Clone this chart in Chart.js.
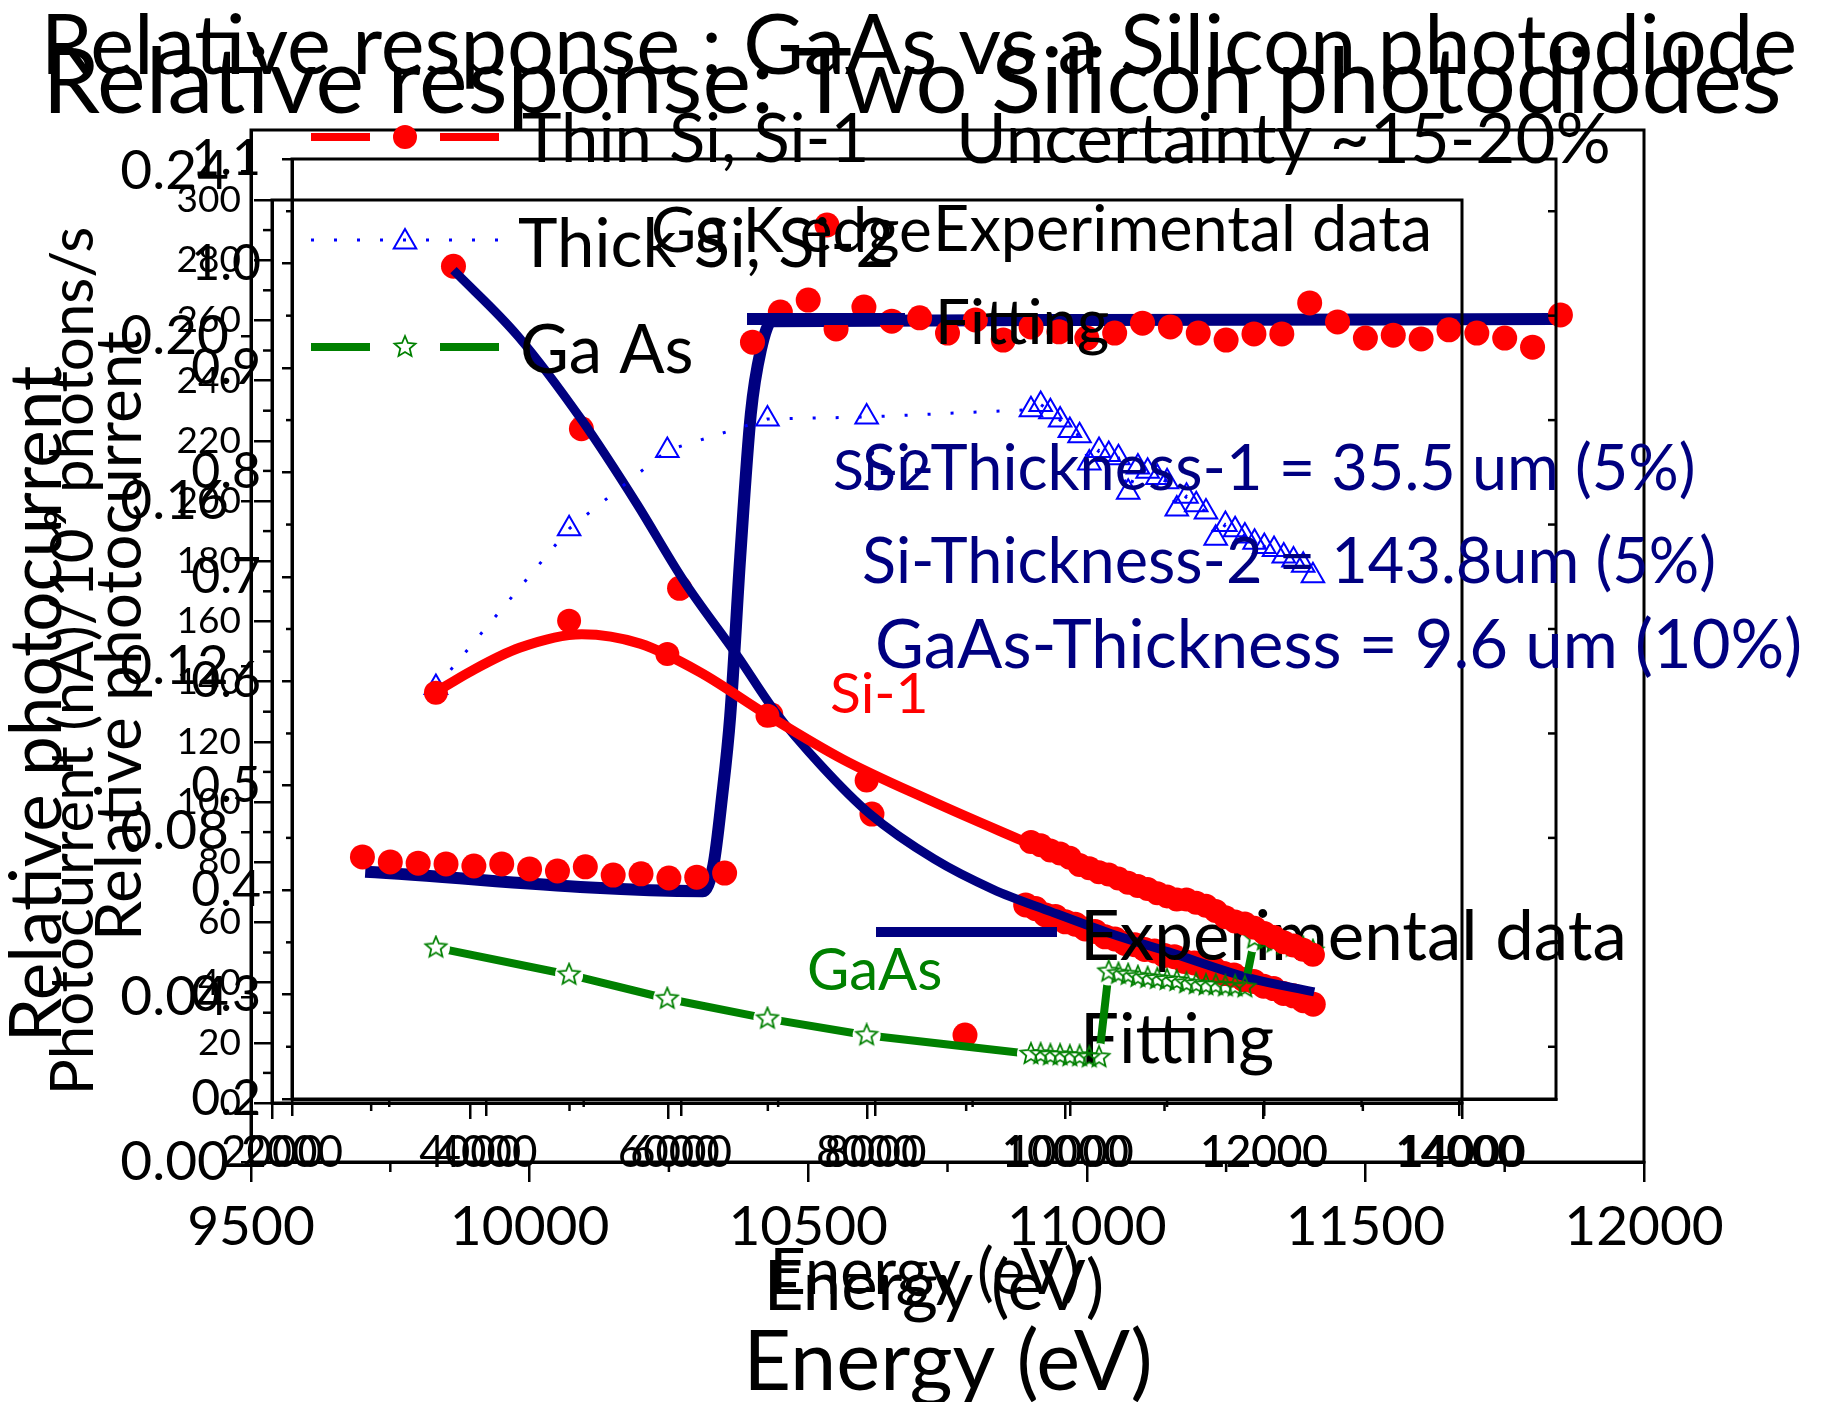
<!DOCTYPE html>
<html>
<head>
<meta charset="utf-8">
<title>Relative response</title>
<script src="https://cdn.jsdelivr.net/npm/chart.js@4.4.1/dist/chart.umd.min.js"></script>
<style>
  html, body { margin: 0; padding: 0; background: #fff; }
  #wrap { position: relative; width: 1831px; height: 1402px; overflow: hidden; }
  #wrap canvas { position: absolute; left: 0; top: 0; }
</style>
</head>
<body>
<div id="wrap">
  <canvas id="ratio-chart" width="1831" height="1402"></canvas>
  <canvas id="photo-chart" width="1831" height="1402"></canvas>
  <canvas id="si-chart" width="1831" height="1402"></canvas>
</div>
<script>
'use strict';

const RED = '#ff0000';
const NAVY = '#000080';
const BLUE = '#0000ff';
const GREEN = '#008000';
const W = 1831;
const H = 1402;

// ---- GaAs vs a Silicon photodiode (ratio around the Ga K edge) ----
let ratioEnergy = [9700, 9750, 9800, 9850, 9900, 9950, 10000, 10050, 10100, 10150, 10200, 10250, 10300, 10350,
  10400, 10450, 10500, 10550, 10600, 10650, 10700, 10750, 10800, 10850, 10900, 10950, 11000, 11050, 11100,
  11150, 11200, 11250, 11300, 11350, 11400, 11450, 11500, 11550, 11600, 11650, 11700, 11750, 11800, 11850];
let ratioValue = [0.0739, 0.0727, 0.0724, 0.0722, 0.0717, 0.0722, 0.0710, 0.0705, 0.0715, 0.0695, 0.0698, 0.0688, 0.0690, 0.0700,
  0.1986, 0.2059, 0.2088, 0.2018, 0.2071, 0.2037, 0.2045, 0.2008, 0.2040, 0.1991, 0.2023, 0.2011, 0.1996, 0.2008, 0.2032,
  0.2023, 0.2008, 0.1991, 0.2006, 0.2006, 0.2081, 0.2035, 0.1996, 0.2003, 0.1994, 0.2016, 0.2008, 0.1996, 0.1974, 0.2052];
let ratioFitEnergy = [9705, 10311, 10330, 10345, 10360, 10378, 10397, 10415, 10435, 11000, 11837];
let ratioFitValue = [0.0703, 0.0656, 0.0720, 0.0880, 0.1080, 0.1466, 0.1812, 0.1967, 0.2037, 0.2040, 0.2042];
let ratioXTicks = [9500, 10000, 10500, 11000, 11500, 12000];
let ratioXMinor = [9750, 10250, 10750, 11250, 11750];
let ratioYTicks = [0, 0.04, 0.08, 0.12, 0.16, 0.20, 0.24];

// ---- Two silicon photodiodes and GaAs (relative response) ----
let pointEnergySi = [3480, 4850, 5860, 6890, 7910];
let scanEnergy = [9600, 9700, 9800, 9900, 10000, 10100, 10200, 10300, 10400, 10500, 10600, 10700, 10800, 10900,
  11000, 11100, 11200, 11300, 11400, 11500, 11600, 11700, 11800, 11900, 12000, 12100, 12200, 12300, 12400, 12500];
let si1Value = [0.589, 0.658, 0.626, 0.567, 0.505,
  0.446, 0.443, 0.438, 0.435, 0.431, 0.424, 0.421, 0.417, 0.415, 0.411, 0.407, 0.404, 0.401, 0.397, 0.394,
  0.391, 0.391, 0.388, 0.385, 0.380, 0.374, 0.370, 0.368, 0.364, 0.359, 0.355, 0.350, 0.347, 0.343, 0.338];
let si2Value = [0.594, 0.746, 0.821, 0.851, 0.853,
  0.860, 0.865, 0.858, 0.850, 0.840, 0.835, 0.809, 0.821, 0.817, 0.814, 0.781, 0.805, 0.801, 0.795, 0.791,
  0.765, 0.777, 0.769, 0.762, 0.737, 0.750, 0.745, 0.739, 0.733, 0.729, 0.726, 0.720, 0.716, 0.711, 0.701];
let gaasValue = [0.345, 0.319, 0.296, 0.277, 0.261,
  0.243, 0.243, 0.242, 0.242, 0.241, 0.241, 0.240, 0.240,
  0.322, 0.320, 0.319, 0.317, 0.316, 0.315, 0.314, 0.313, 0.311, 0.310, 0.309, 0.309, 0.308, 0.308, 0.307,
  0.354, 0.352, 0.350, 0.348, 0.346, 0.345, 0.342];
let si1FitEnergy = [3470, 3830, 4340, 4980, 5580, 6190, 6900, 7670, 8560, 9270, 10300, 11330, 12500];
let si1FitValue = [0.589, 0.609, 0.632, 0.645, 0.636, 0.609, 0.567, 0.525, 0.486, 0.457, 0.417, 0.387, 0.339];
let siXTicks = [2000, 4000, 6000, 8000, 10000, 12000, 14000];
let siXMinor = [3000, 5000, 7000, 9000, 11000, 13000];
let siYTicks = [0.2, 0.3, 0.4, 0.5, 0.6, 0.7, 0.8, 0.9, 1.0, 1.1];
let siYMinor = [0.25, 0.35, 0.45, 0.55, 0.65, 0.75, 0.85, 0.95, 1.05];

// ---- Photocurrent of the Si diode ----
let pointEnergyPhoto = [3830, 5120, 6110, 7030, 8050];
let photoValue = [278, 224, 171, 129, 96,
  65.8, 64.6, 62.5, 62.0, 60.2, 59.4, 57.8, 57.0, 55.2, 54.5, 53.0, 52.6, 51.0, 50.5, 49.0,
  48.6, 47.0, 46.5, 45.0, 44.6, 43.0, 42.5, 41.0, 40.4, 38.8, 38.0, 36.4, 35.6, 34.0, 32.8];
let photoFitEnergy = [3830, 4480, 5130, 5680, 6140, 6700, 7070, 7540, 8030, 8680, 9270, 9860, 10440, 11040, 11860, 12510];
let photoFitValue = [276.7, 254.8, 226.6, 199.0, 174.1, 148.2, 130.2, 112.0, 96.0, 81.0, 71.0, 63.5, 56.5, 50.2, 41.5, 36.9];
let photoXTicks = [2000, 4000, 6000, 8000, 10000, 12000, 14000];
let photoXMinor = [3000, 5000, 7000, 9000, 11000, 13000];
let photoYTicks = [0, 20, 40, 60, 80, 100, 120, 140, 160, 180, 200, 220, 240, 260, 280, 300];
let photoYMinor = [10, 30, 50, 70, 90, 110, 130, 150, 170, 190, 210, 230, 250, 270, 290];


Chart.defaults.font.family = 'Lato, "Open Sans", sans-serif';
Chart.defaults.color = '#000';

function pairs(xs, ys) {
  return xs.map((x, i) => ({ x: x, y: ys[i] }));
}

function starPath(ctx, cx, cy, r) {
  ctx.beginPath();
  for (let i = 0; i < 10; i++) {
    const a = -Math.PI / 2 + i * Math.PI / 5;
    const rr = i % 2 ? r * 0.45 : r;
    ctx.lineTo(cx + rr * Math.cos(a), cy + rr * Math.sin(a));
  }
  ctx.closePath();
}

function makeStar(r, color) {
  const c = document.createElement('canvas');
  c.width = c.height = 2 * r + 4;
  const ctx = c.getContext('2d');
  ctx.strokeStyle = color;
  ctx.lineWidth = 1.8;
  starPath(ctx, r + 2, r + 2, r);
  ctx.stroke();
  return c;
}
const starImage = makeStar(11, GREEN);

function drawMarker(ctx, kind, x, y, r, color) {
  ctx.beginPath();
  if (kind === 'circle') {
    ctx.fillStyle = color;
    ctx.arc(x, y, r, 0, Math.PI * 2);
    ctx.fill();
  } else if (kind === 'triangle') {
    ctx.strokeStyle = color;
    ctx.lineWidth = 2;
    ctx.moveTo(x, y - r);
    ctx.lineTo(x + r * 0.866, y + r / 2);
    ctx.lineTo(x - r * 0.866, y + r / 2);
    ctx.closePath();
    ctx.stroke();
  } else if (kind === 'star') {
    ctx.strokeStyle = color;
    ctx.lineWidth = 1.8;
    starPath(ctx, x, y, r);
    ctx.stroke();
  }
}

// text that sits on top of the charts (titles, labels, notes)
function notesPlugin(items) {
  return {
    id: 'notes',
    afterDraw(chart) {
      const ctx = chart.ctx;
      items.forEach(n => {
        ctx.save();
        ctx.font = n.size + 'px Lato, "Open Sans", sans-serif';
        ctx.fillStyle = n.color || '#000';
        ctx.textAlign = n.align || 'left';
        ctx.textBaseline = 'alphabetic';
        ctx.translate(n.x, n.y);
        if (n.vertical) ctx.rotate(-Math.PI / 2);
        ctx.fillText(n.text, 0, 0);
        ctx.restore();
      });
    }
  };
}

// box around the plot area + the small ticks
function framePlugin(minor) {
  return {
    id: 'frame',
    afterDraw(chart) {
      const ctx = chart.ctx;
      const a = chart.chartArea;
      ctx.save();
      ctx.strokeStyle = '#000';
      ctx.lineWidth = 3;
      ctx.strokeRect(a.left, a.top, a.right - a.left, a.bottom - a.top);
      ctx.lineWidth = 2.5;
      minor.forEach(m => {
        const scale = chart.scales[m.axis];
        m.values.forEach(v => {
          const p = scale.getPixelForValue(v);
          ctx.beginPath();
          if (m.axis === 'x') {
            ctx.moveTo(p, a.bottom);
            ctx.lineTo(p, a.bottom + m.len);
          } else {
            const x0 = m.right ? a.right : a.left;
            ctx.moveTo(x0, p);
            ctx.lineTo(x0 + m.len, p);
          }
          ctx.stroke();
        });
      });
      ctx.restore();
    }
  };
}

// legend samples
function keysPlugin(keys) {
  return {
    id: 'keys',
    afterDraw(chart) {
      const ctx = chart.ctx;
      keys.forEach(k => {
        ctx.save();
        if (k.line) {
          ctx.strokeStyle = k.color;
          ctx.lineWidth = k.line;
          ctx.setLineDash(k.dash || []);
          ctx.beginPath();
          ctx.moveTo(k.x1, k.y);
          ctx.lineTo(k.x2, k.y);
          ctx.stroke();
        } else {
          drawMarker(ctx, k.marker, k.x, k.y, k.r, k.color);
        }
        ctx.restore();
      });
    }
  };
}

// open a small gap in a line around each of its points
function gapPlugin(lineIndex, radius) {
  return {
    id: 'gaps',
    afterDatasetDraw(chart, args) {
      if (args.index !== lineIndex) return;
      const ctx = chart.ctx;
      ctx.save();
      ctx.globalCompositeOperation = 'destination-out';
      args.meta.data.forEach(pt => {
        ctx.beginPath();
        ctx.arc(pt.x, pt.y, radius, 0, Math.PI * 2);
        ctx.fill();
      });
      ctx.restore();
    }
  };
}

function linearAxis(min, max, tickValues, fmt, size, tickLength, padding, fit) {
  return {
    type: 'linear',
    min: min,
    max: max,
    afterBuildTicks: scale => { scale.ticks = tickValues.map(v => ({ value: v })); },
    afterFit: scale => {
      if (scale.isHorizontal()) {
        scale.height = fit;
      } else {
        scale.width = fit;
      }
    },
    ticks: { callback: v => fmt(v), font: { size: size }, color: '#000', padding: padding, autoSkip: false, maxRotation: 0, minRotation: 0 },
    grid: { drawOnChartArea: false, tickLength: tickLength, color: '#000', lineWidth: 2.5 },
    border: { color: '#000', width: 3 }
  };
}

function baseOptions(box, xAxis, yAxis) {
  return {
    responsive: false,
    animation: false,
    devicePixelRatio: 1,
    events: [],
    layout: { autoPadding: false, padding: { left: 0, top: box.top, right: W - box.right, bottom: 0 } },
    plugins: { legend: { display: false }, tooltip: { enabled: false } },
    scales: { x: xAxis, y: yAxis }
  };
}


// ---------- chart 1: GaAs / Si ratio ----------
new Chart(document.getElementById('ratio-chart'), {
  type: 'line',
  data: {
    datasets: [{
      label: 'Experimental data',
      data: pairs(ratioEnergy, ratioValue),
      showLine: false,
      pointRadius: 12.5,
      pointBackgroundColor: RED,
      pointBorderWidth: 0,
      order: 1
    }, {
      label: 'Fitting',
      data: pairs(ratioFitEnergy, ratioFitValue),
      borderColor: NAVY,
      borderWidth: 12,
      borderJoinStyle: 'round',
      pointRadius: 0,
      cubicInterpolationMode: 'monotone',
      order: 2
    }]
  },
  options: baseOptions({ top: 130, right: 1644 },
    linearAxis(9500, 12000, ratioXTicks, v => String(v), 55, 20, 12, H - 1162),
    linearAxis(0, 0.25, ratioYTicks, v => v.toFixed(2), 55, 10, 12, 251)),
  plugins: [
    framePlugin([{ axis: 'x', values: ratioXMinor, len: 10 }]),
    keysPlugin([
      { line: 12, color: NAVY, x1: 747, x2: 905, y: 319 },
      { marker: 'circle', color: RED, x: 827, y: 225, r: 12.5 }
    ]),
    notesPlugin([
      { text: 'Relative response : GaAs vs a Silicon photodiode', x: 919, y: 74, size: 83, align: 'center' },
      { text: 'Ga K edge', x: 651, y: 252, size: 62 },
      { text: 'Experimental data', x: 933, y: 251, size: 63 },
      { text: 'Fitting', x: 935, y: 344, size: 62 },
      { text: 'Relative photocurrent', x: 61, y: 704, size: 71, align: 'center', vertical: true },
      { text: 'Energy (eV)', x: 948, y: 1390, size: 83, align: 'center' }
    ])
  ]
});

// ---------- chart 2: photocurrent ----------
new Chart(document.getElementById('photo-chart'), {
  type: 'line',
  data: {
    datasets: [{
      label: 'Fitting',
      data: pairs(photoFitEnergy, photoFitValue),
      borderColor: NAVY,
      borderWidth: 9,
      pointRadius: 0,
      cubicInterpolationMode: 'monotone',
      order: 1
    }, {
      label: 'Experimental data',
      data: pairs(pointEnergyPhoto.concat(scanEnergy), photoValue),
      showLine: false,
      pointRadius: 12.5,
      pointBackgroundColor: RED,
      pointBorderWidth: 0,
      order: 2
    }]
  },
  options: baseOptions({ top: 200, right: 1462 },
    linearAxis(2000, 14000, photoXTicks, v => String(v), 44, 16, 7, H - 1103),
    linearAxis(0, 300, photoYTicks, v => String(v), 37, 18, 13, 272)),
  plugins: [
    framePlugin([
      { axis: 'x', values: photoXMinor, len: 8 },
      { axis: 'y', values: photoYMinor, len: -9 }
    ]),
    keysPlugin([
      { line: 10, color: NAVY, x1: 876, x2: 1057, y: 932 },
      { marker: 'circle', color: RED, x: 965, y: 1035, r: 12.5 }
    ]),
    notesPlugin([
      { text: 'Experimental data', x: 1080, y: 960, size: 69 },
      { text: 'Fitting', x: 1080, y: 1063, size: 69 },
      { text: 'Photocurrent (nA)/10\u2079 photons/s', x: 93, y: 661, size: 60, align: 'center', vertical: true },
      { text: 'Energy (eV)', x: 934, y: 1310, size: 69, align: 'center' }
    ])
  ]
});

// ---------- chart 3: two silicon photodiodes + GaAs ----------
let siEnergy = pointEnergySi.concat(scanEnergy);

new Chart(document.getElementById('si-chart'), {
  type: 'line',
  data: {
    datasets: [{
      label: 'Thin Si, Si-1',
      data: pairs(siEnergy, si1Value),
      showLine: false,
      pointRadius: 12,
      pointBackgroundColor: RED,
      pointBorderWidth: 0,
      order: 1
    }, {
      label: 'Thick Si, Si-2',
      data: pairs(siEnergy, si2Value),
      borderColor: BLUE,
      borderWidth: 3,
      borderDash: [3, 20],
      pointStyle: 'triangle',
      pointRadius: 13,
      pointBorderColor: BLUE,
      pointBorderWidth: 2,
      pointBackgroundColor: 'rgba(0,0,0,0)',
      order: 2
    }, {
      label: 'Si-1 fit',
      data: pairs(si1FitEnergy, si1FitValue),
      borderColor: RED,
      borderWidth: 10,
      pointRadius: 0,
      cubicInterpolationMode: 'monotone',
      order: 3
    }, {
      label: 'Ga As',
      data: pairs(siEnergy, gaasValue),
      showLine: false,
      pointStyle: starImage,
      pointRadius: 11,
      order: 4
    }, {
      label: 'Ga As line',
      data: pairs(siEnergy, gaasValue),
      borderColor: GREEN,
      borderWidth: 8,
      pointRadius: 0,
      order: 5
    }]
  },
  options: baseOptions({ top: 159, right: 1556 },
    linearAxis(2000, 15000, siXTicks, v => String(v), 44, 17, 10, H - 1099),
    linearAxis(0.2, 1.1, siYTicks, v => v.toFixed(1), 50, 10, 21, 292)),
  plugins: [
    gapPlugin(4, 14),
    framePlugin([
      { axis: 'x', values: siXMinor, len: 8 },
      { axis: 'y', values: siYMinor, len: -6 },
      { axis: 'y', values: siYMinor, len: -8, right: true }
    ]),
    keysPlugin([
      { line: 8, color: RED, dash: [59, 70], x1: 311, x2: 499, y: 137 },
      { marker: 'circle', color: RED, x: 405, y: 137, r: 12 },
      { line: 3, color: BLUE, dash: [3, 20], x1: 311, x2: 499, y: 240 },
      { marker: 'triangle', color: BLUE, x: 405, y: 242, r: 13 },
      { line: 8, color: GREEN, dash: [59, 70], x1: 311, x2: 499, y: 347 },
      { marker: 'star', color: GREEN, x: 405, y: 347, r: 11 }
    ]),
    notesPlugin([
      { text: 'Relative response: Two Silicon photodiodes', x: 912, y: 113, size: 92, align: 'center' },
      { text: 'Thin Si, Si-1', x: 522, y: 162, size: 67 },
      { text: 'Thick Si, Si-2', x: 518, y: 267, size: 67 },
      { text: 'Ga As', x: 520, y: 373, size: 67 },
      { text: 'Uncertainty ~15-20%', x: 956, y: 163, size: 69 },
      { text: 'Si-2', x: 833, y: 490, size: 57, color: NAVY },
      { text: 'Si-Thickness-1 = 35.5 um (5%)', x: 862, y: 490, size: 63, color: NAVY },
      { text: 'Si-Thickness-2 = 143.8um (5%)', x: 862, y: 583, size: 63, color: NAVY },
      { text: 'GaAs-Thickness = 9.6 um (10%)', x: 875, y: 668, size: 67, color: NAVY },
      { text: 'Si-1', x: 830, y: 713, size: 57, color: RED },
      { text: 'GaAs', x: 807, y: 990, size: 58, color: GREEN },
      { text: 'Relative photocurrent', x: 141, y: 636, size: 64, align: 'center', vertical: true },
      { text: 'Energy (eV)', x: 925, y: 1294, size: 63, align: 'center' }
    ])
  ]
});
</script>
</body>
</html>
